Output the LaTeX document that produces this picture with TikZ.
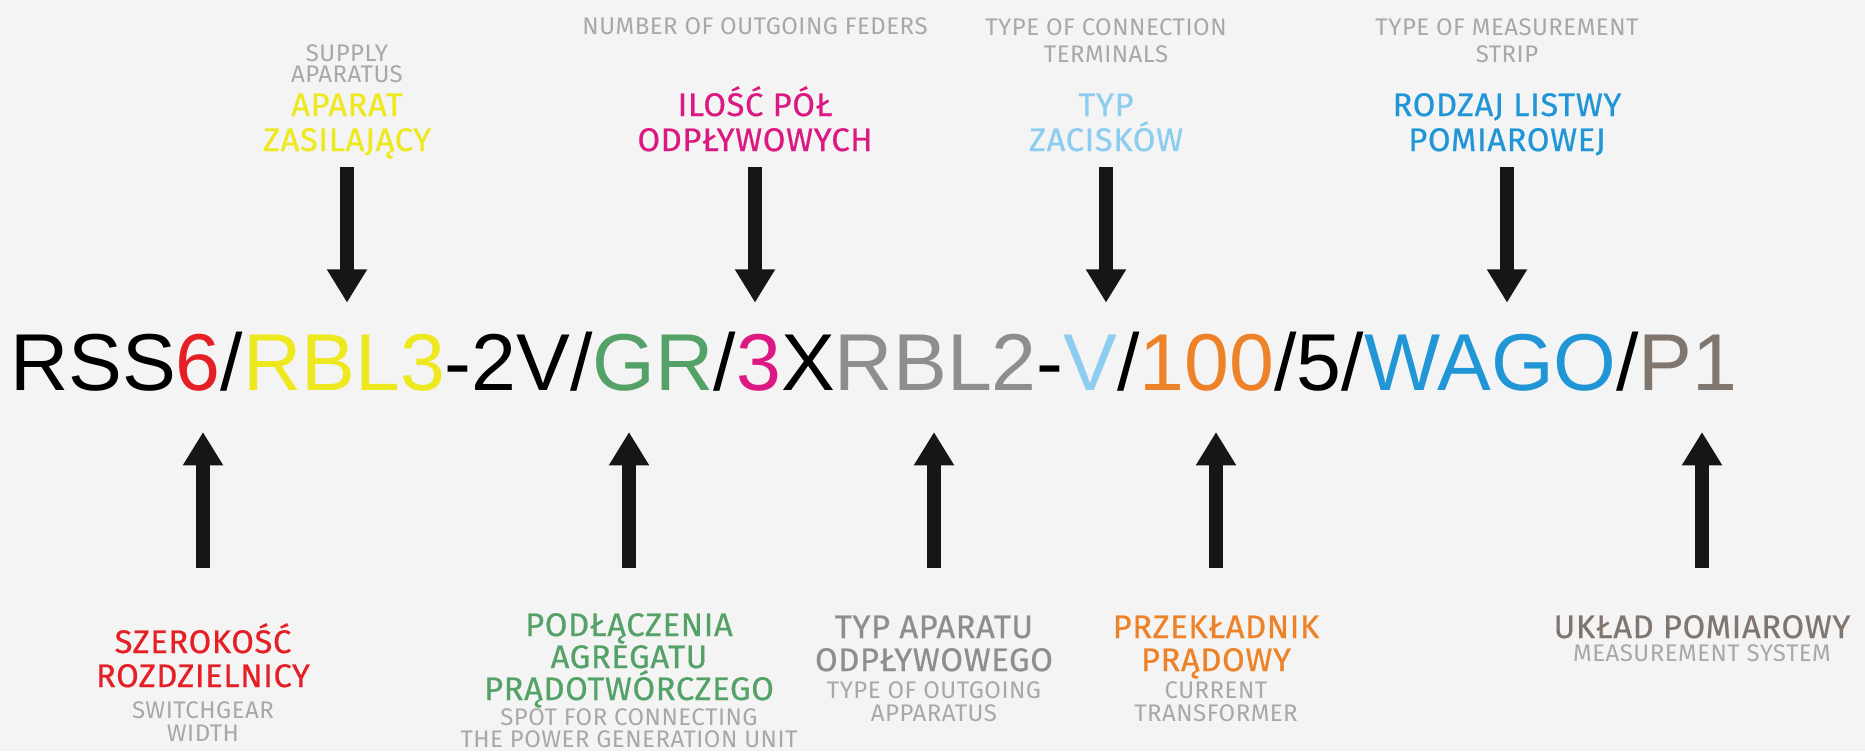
\documentclass[tikz,border=0pt]{standalone}
\usepackage{fontspec}
\setmainfont{Liberation Sans}
\newfontfamily\labfont[LetterSpace=2]{Fira Sans}
\newfontfamily\plfont[LetterSpace=2,FakeBold=0.6]{Fira Sans}
\usetikzlibrary{positioning,calc,arrows.meta}

\definecolor{cBg}{RGB}{244,244,244}
\definecolor{cRed}{RGB}{228,32,38}
\definecolor{cYellow}{RGB}{238,232,30}
\definecolor{cGreen}{RGB}{84,162,104}
\definecolor{cMagenta}{RGB}{220,25,130}
\definecolor{cGrey}{RGB}{142,142,142}
\definecolor{cLightBlue}{RGB}{140,205,240}
\definecolor{cOrange}{RGB}{238,130,40}
\definecolor{cBlue}{RGB}{32,150,214}
\definecolor{cBrown}{RGB}{128,118,112}
\definecolor{cEn}{RGB}{168,168,168}

\tikzset{every picture/.style={line width=0.75pt}}
\tikzset{
  seg/.style={inner sep=0pt, outer sep=0pt, text height=44.5pt, text depth=0pt, font=\fontsize{60.5}{60.5}\selectfont},
  pl/.style={anchor=base, inner sep=0pt, font=\plfont\fontsize{24.5}{25}\selectfont},
  en/.style={anchor=base, inner sep=0pt, text=cEn, font=\labfont\fontsize{18}{18}\selectfont},
  bigarrow/.style={line width=10.5pt, draw={rgb,255:red,22;green,22;blue,22}, -{Triangle[width=28.5pt,length=25pt]}}
}

\begin{document}
\begin{tikzpicture}[x=0.75pt,y=0.75pt,yscale=-1,xscale=1]
\useasboundingbox (0,0) rectangle (1865,751);
\clip (0,0) rectangle (1865,751);
\fill[cBg] (0,0) rectangle (1865,751);

% Code line
\node[seg, anchor=base west] (seg1) at (10,390) {RSS};
\node[seg, base right=0pt of seg1, text=cRed] (seg2) {6};
\node[seg, base right=0pt of seg2] (seg3) {/};
\node[seg, base right=0pt of seg3, text=cYellow] (seg4) {RBL3};
\node[seg, base right=0pt of seg4] (seg5) {-2V/};
\node[seg, base right=0pt of seg5, text=cGreen] (seg6) {GR};
\node[seg, base right=0pt of seg6] (seg7) {/};
\node[seg, base right=0pt of seg7, text=cMagenta] (seg8) {3};
\node[seg, base right=0pt of seg8] (seg9) {X};
\node[seg, base right=0pt of seg9, text=cGrey] (seg10) {RBL2};
\node[seg, base right=0pt of seg10] (seg11) {-};
\node[seg, base right=0pt of seg11, text=cLightBlue] (seg12) {V};
\node[seg, base right=0pt of seg12] (seg13) {/};
\node[seg, base right=0pt of seg13, text=cOrange] (seg14) {100};
\node[seg, base right=0pt of seg14] (seg15) {/5/};
\node[seg, base right=0pt of seg15, text=cBlue] (seg16) {WAGO};
\node[seg, base right=0pt of seg16] (seg17) {/};
\node[seg, base right=0pt of seg17, text=cBrown] (seg18) {P1};

% Text Node
\node[en] (enSupplyA) at (347,61) {SUPPLY};
\node[en] (enSupplyB) at (347,82) {APARATUS};
\node[pl, text=cYellow] (plSupplyA) at (347,116) {APARAT};
\node[pl, text=cYellow] (plSupplyB) at (347,151) {ZASILAJĄCY};
% Text Node
\node[en] (enFeeders) at (755,34) {NUMBER OF OUTGOING FEDERS};
\node[pl, text=cMagenta] (plFeedersA) at (755,116) {ILOŚĆ PÓŁ};
\node[pl, text=cMagenta] (plFeedersB) at (755,151) {ODPŁYWOWYCH};
% Text Node
\node[en] (enTerminalsA) at (1106,35) {TYPE OF CONNECTION};
\node[en] (enTerminalsB) at (1106,62) {TERMINALS};
\node[pl, text=cLightBlue] (plTerminalsA) at (1106,116) {TYP};
\node[pl, text=cLightBlue] (plTerminalsB) at (1106,151) {ZACISKÓW};
% Text Node
\node[en] (enStripA) at (1507,35) {TYPE OF MEASUREMENT};
\node[en] (enStripB) at (1507,62) {STRIP};
\node[pl, text=cBlue] (plStripA) at (1507,116) {RODZAJ LISTWY};
\node[pl, text=cBlue] (plStripB) at (1507,151) {POMIAROWEJ};

% Text Node
\node[pl, text=cRed] (plWidthA) at (203,653) {SZEROKOŚĆ};
\node[pl, text=cRed] (plWidthB) at (203,687) {ROZDZIELNICY};
\node[en] (enWidthA) at (203,718) {SWITCHGEAR};
\node[en] (enWidthB) at (203,741) {WIDTH};
% Text Node
\node[pl, text=cGreen] (plGensetA) at (629,636) {PODŁĄCZENIA};
\node[pl, text=cGreen] (plGensetB) at (629,668) {AGREGATU};
\node[pl, text=cGreen] (plGensetC) at (629,700) {PRĄDOTWÓRCZEGO};
\node[en] (enGensetA) at (629,725) {SPOT FOR CONNECTING};
\node[en] (enGensetB) at (629,747) {THE POWER GENERATION UNIT};
% Text Node
\node[pl, text=cGrey] (plOutgoingA) at (934,638) {TYP APARATU};
\node[pl, text=cGrey] (plOutgoingB) at (934,671) {ODPŁYWOWEGO};
\node[en] (enOutgoingA) at (934,698) {TYPE OF OUTGOING};
\node[en] (enOutgoingB) at (934,721) {APPARATUS};
% Text Node
\node[pl, text=cOrange] (plCurrentA) at (1216,638) {PRZEKŁADNIK};
\node[pl, text=cOrange] (plCurrentB) at (1216,671) {PRĄDOWY};
\node[en] (enCurrentA) at (1216,698) {CURRENT};
\node[en] (enCurrentB) at (1216,721) {TRANSFORMER};
% Text Node
\node[pl, text=cBrown] (plMeasure) at (1702,638) {UKŁAD POMIAROWY};
\node[en] (enMeasure) at (1702,661) {MEASUREMENT SYSTEM};

%Straight Lines
\draw[bigarrow] ($(plSupplyB |- seg4.north)+(0,-164)$) -- ($(plSupplyB |- seg4.north)+(0,-28)$);
\draw[bigarrow] ($(plFeedersB |- seg8.north)+(0,-164)$) -- ($(plFeedersB |- seg8.north)+(0,-28)$);
\draw[bigarrow] ($(plTerminalsB |- seg12.north)+(0,-164)$) -- ($(plTerminalsB |- seg12.north)+(0,-28)$);
\draw[bigarrow] ($(plStripB |- seg16.north)+(0,-164)$) -- ($(plStripB |- seg16.north)+(0,-28)$);
%Straight Lines
\draw[bigarrow] ($(plWidthA |- seg2.base)+(0,178)$) -- ($(plWidthA |- seg2.base)+(0,42)$);
\draw[bigarrow] ($(plGensetA |- seg6.base)+(0,178)$) -- ($(plGensetA |- seg6.base)+(0,42)$);
\draw[bigarrow] ($(plOutgoingA |- seg10.base)+(0,178)$) -- ($(plOutgoingA |- seg10.base)+(0,42)$);
\draw[bigarrow] ($(plCurrentA |- seg14.base)+(0,178)$) -- ($(plCurrentA |- seg14.base)+(0,42)$);
\draw[bigarrow] ($(plMeasure |- seg18.base)+(0,178)$) -- ($(plMeasure |- seg18.base)+(0,42)$);

\end{tikzpicture}
\end{document}
